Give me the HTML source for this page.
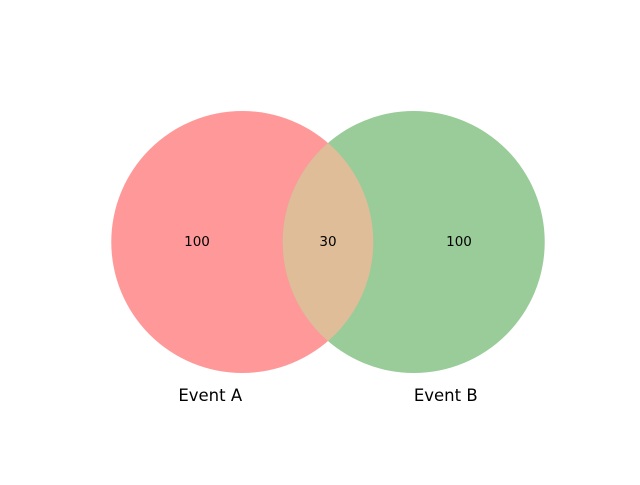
<!DOCTYPE html>
<html><head><meta charset="utf-8"><style>
body{margin:0;background:#fff;}
svg text{font-family:"DejaVu Sans","Liberation Sans",sans-serif;}
</style></head><body>
<svg id="chart" width="640" height="480" viewBox="0 0 640 480">
<rect width="640" height="480" fill="#fff"/>
<defs><clipPath id="clipA"><circle id="clipCircle"/></clipPath></defs>
<g id="marks"></g>
</svg>
<script>
const setNames = ["Event A", "Event B"];
const regionValues = [100, 100, 30]; // A only, B only, A∩B
const NS = "http://www.w3.org/2000/svg";
const cy = 242, midX = 328, scale = 131 / Math.sqrt(130);
const aTot = regionValues[0] + regionValues[2], bTot = regionValues[1] + regionValues[2];
const rA = scale * Math.sqrt(aTot), rB = scale * Math.sqrt(bTot);
function lens(d){
  if (d >= rA + rB) return 0;
  if (d <= Math.abs(rA - rB)) return Math.PI * Math.min(rA, rB) ** 2;
  const a = rA*rA*Math.acos((d*d + rA*rA - rB*rB)/(2*d*rA));
  const b = rB*rB*Math.acos((d*d + rB*rB - rA*rA)/(2*d*rB));
  const c = 0.5*Math.sqrt((-d+rA+rB)*(d+rA-rB)*(d-rA+rB)*(d+rA+rB));
  return a + b - c;
}
const target = regionValues[2] * scale * scale * Math.PI;
let lo = Math.abs(rA - rB), hi = rA + rB;
for (let i = 0; i < 60; i++){ const m = (lo+hi)/2; if (lens(m) > target) lo = m; else hi = m; }
const d = (lo + hi) / 2;
const cxA = midX - d/2, cxB = midX + d/2;
const g = document.getElementById("marks");
function mk(tag, attrs){ const e = document.createElementNS(NS, tag); for (const k in attrs) e.setAttribute(k, attrs[k]); g.appendChild(e); return e; }
const cA = mk("circle", {cx: cxA, cy: cy, r: rA, fill: "#ff9999"});


const cB = mk("circle", {cx: cxB, cy: cy, r: rB, fill: "#99cc99"});


const cc = document.getElementById("clipCircle");
cc.setAttribute("cx", cxA); cc.setAttribute("cy", cy); cc.setAttribute("r", rA);
const ov = mk("circle", {cx: cxB, cy: cy, r: rB, fill: "#dfbd99", "clip-path": "url(#clipA)"});


const lx = [((cxA - rA) + (cxB - rB))/2, ((cxA + rA) + (cxB + rB))/2, ((cxB - rB) + (cxA + rA))/2];
const lnames = ["label-a-only", "label-b-only", "label-intersection"];
for (let i = 0; i < 3; i++){
  const t = mk("text", {x: lx[i], y: cy + 4, "text-anchor": "middle", "font-size": 13.5, fill: "#000"});
  t.textContent = regionValues[i];
  
  
}
const sx = [cxA - 32, cxB + 32];
const snames = ["set-label-a", "set-label-b"];
for (let i = 0; i < 2; i++){
  const t = mk("text", {x: sx[i], y: 401, "text-anchor": "middle", "font-size": 16.5, fill: "#000"});
  t.textContent = setNames[i];
  
  
}
</script>
</body></html>
